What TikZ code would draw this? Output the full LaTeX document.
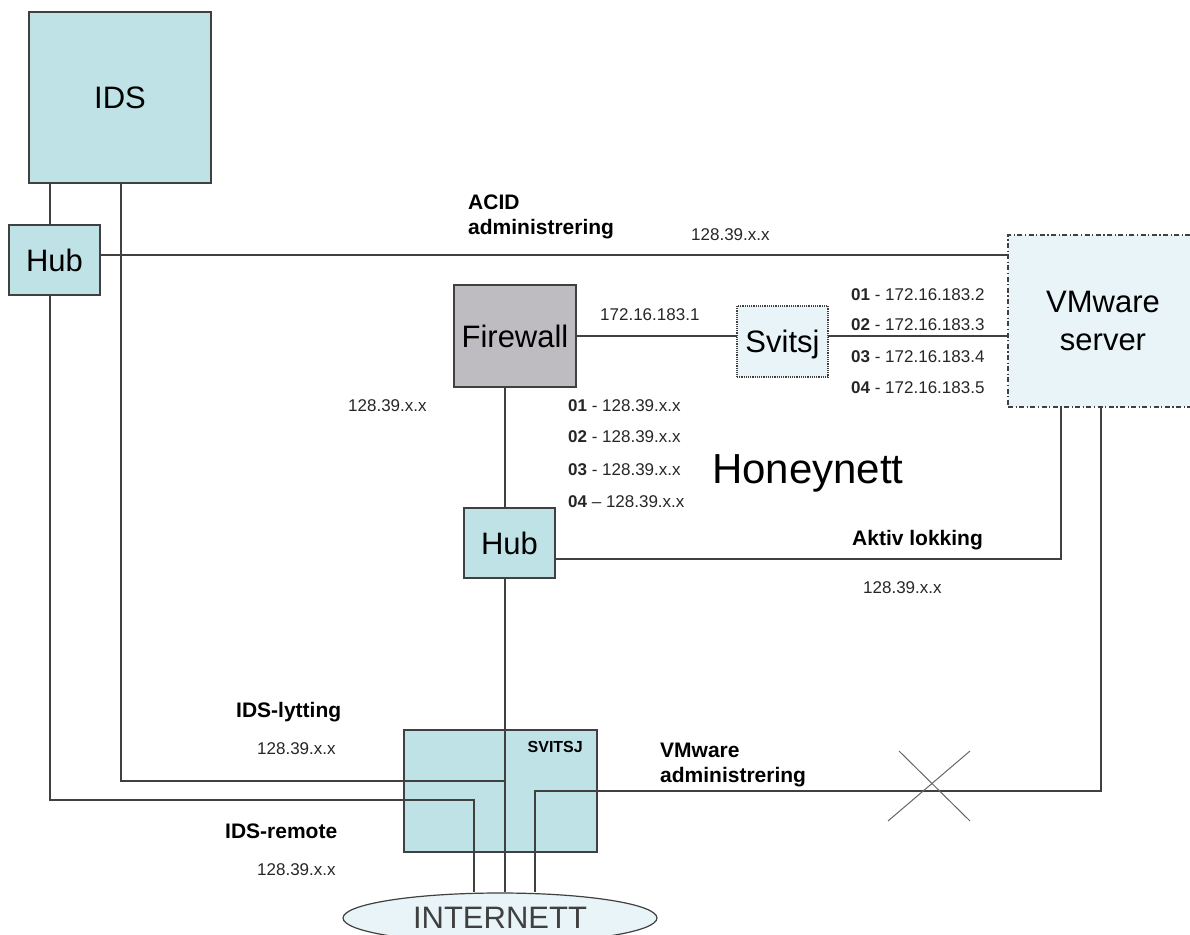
\documentclass[tikz,border=0pt]{standalone}
\usepackage{fontspec}
\setmainfont{Liberation Sans}
\usepackage{tikz}
\usetikzlibrary{shapes.geometric,positioning}
\definecolor{cTeal}{RGB}{190,226,230}
\definecolor{cGray}{RGB}{190,188,192}
\definecolor{cPale}{RGB}{232,244,247}
\definecolor{cLine}{RGB}{64,64,64}
\tikzset{
  basebox/.style={rectangle,draw=cLine,line width=1.2pt,inner sep=0pt,outer sep=0pt,
                  align=center,font=\fontsize{31}{38}\selectfont},
  tealnode/.style={basebox,fill=cTeal},
  graynode/.style={basebox,fill=cGray},
  svitnode/.style={basebox,fill=cPale,densely dotted},
  vmnode/.style={basebox,fill=cPale,dash pattern=on 5pt off 2.5pt on 1.2pt off 2.5pt},
  netnode/.style={ellipse,draw=cLine,line width=1.2pt,fill=cPale,inner sep=0pt,
                  text=black!75,font=\fontsize{31}{36}\selectfont},
  lbl/.style={inner sep=0pt,anchor=base west,font=\fontsize{21}{25}\selectfont\bfseries},
  ip/.style={inner sep=0pt,anchor=base west,text=black!85,font=\fontsize{17}{20}\selectfont},
  wire/.style={draw=cLine,line width=1.2pt}
}

\begin{document}
\begin{tikzpicture}[x=1pt,y=-1pt]

  \useasboundingbox (0,0) rectangle (1190,934);
  \clip (0,0) rectangle (1190,934);

  \node[tealnode,minimum width=182pt,minimum height=171pt] (ids) at (120,97.5) {IDS};
  \node[tealnode,minimum width=91pt,minimum height=70pt] (hubA) at (54.5,260) {Hub};
  \node[graynode,minimum width=122pt,minimum height=102pt] (fw) at (515,336) {Firewall};
  \node[svitnode,minimum width=91pt,minimum height=71pt,text depth=0pt] (sw) at (782.5,341.5) {Svitsj};
  \node[vmnode,minimum width=190pt,minimum height=172pt] (vm) at (1103,321) {VMware\\server};
  \node[tealnode,minimum width=91pt,minimum height=70pt] (hubB) at (509.5,543) {Hub};
  \node[tealnode,minimum width=193pt,minimum height=122pt] (sv) at (500.5,791) {};
  \node[netnode,minimum width=314pt,minimum height=50pt] (inet) at (500,918) {INTERNETT};
  \node[inner sep=0pt,anchor=base east,font=\fontsize{16}{19}\selectfont\bfseries] (svlbl)
      at (583,752) {SVITSJ};

  % bend points of the cabling
  \coordinate (trunk) at (505,781);
  \coordinate (remote) at (50,800);
  \coordinate (remoteIn) at (474,800);
  \coordinate (idsTap) at (121,781);
  \coordinate (lokk) at (1061,559);
  \coordinate (vmadm) at (1101,791);
  \coordinate (admIn) at (535,791);
  \coordinate (cross) at (932,786);

  \draw[wire] (ids.south -| remote) -- (hubA.north -| remote);
  \draw[wire] (hubA.south -| remote) -- (remote) -- (remoteIn) -- (remoteIn |- inet.north);
  \draw[wire] (ids.south -| idsTap) -- (idsTap) -- (trunk);
  \draw[wire] ([yshift=5pt]hubA.east) -- ([yshift=5pt]hubA.east -| vm.west);
  \draw[wire] (fw.east) -- (sw.west |- fw.east);
  \draw[wire] (sw.east |- fw.east) -- (vm.west |- fw.east);
  \draw[wire] (fw.south -| trunk) -- (hubB.north -| trunk);
  \draw[wire] (hubB.south -| trunk) -- (trunk) -- (trunk |- inet.north);
  \draw[wire] (hubB.east |- lokk) -- (lokk) -- (vm.south -| lokk);
  \draw[wire] (vm.south -| vmadm) -- (vmadm) -- (admIn) -- (admIn |- inet.north);

  % cut link
  \draw[line width=1pt,draw=black!60] ([shift={(-33,-35)}]cross) -- ([shift={(38,35)}]cross);
  \draw[line width=1pt,draw=black!60] ([shift={(-44,35)}]cross) -- ([shift={(38,-35)}]cross);

  \node[lbl,anchor=north west,align=left] (acid) at (468,195) {ACID\\administrering};
  \node[ip] (ipAcid) at (691,240) {128.39.x.x};
  \node[ip] (ipFw) at (600,320) {172.16.183.1};

  \node[ip] (vmip1) at (851,300) {\textbf{01} - 172.16.183.2};
  \node[ip] (vmip2) at (851,330) {\textbf{02} - 172.16.183.3};
  \node[ip] (vmip3) at (851,362) {\textbf{03} - 172.16.183.4};
  \node[ip] (vmip4) at (851,393) {\textbf{04} - 172.16.183.5};

  \node[ip] (ipWan) at (348,411) {128.39.x.x};
  \node[ip] (hnip1) at (568,411) {\textbf{01} - 128.39.x.x};
  \node[ip] (hnip2) at (568,442) {\textbf{02} - 128.39.x.x};
  \node[ip] (hnip3) at (568,475) {\textbf{03} - 128.39.x.x};
  \node[ip] (hnip4) at (568,507) {\textbf{04} -- 128.39.x.x};

  \node[inner sep=0pt,anchor=base west,font=\fontsize{42}{48}\selectfont] (honey)
      at (712,483) {Honeynett};

  \node[lbl] (aktiv) at (852,545) {Aktiv lokking};
  \node[ip] (ipAktiv) at (863,593) {128.39.x.x};

  \node[lbl] (lytt) at (236,717) {IDS-lytting};
  \node[ip] (ipLytt) at (257,754) {128.39.x.x};
  \node[lbl] (remlbl) at (225,838) {IDS-remote};
  \node[ip] (ipRem) at (257,875) {128.39.x.x};

  \node[lbl,anchor=north west,align=left] (vmadmlbl) at (660,743) {VMware\\administrering};

\end{tikzpicture}
\end{document}
